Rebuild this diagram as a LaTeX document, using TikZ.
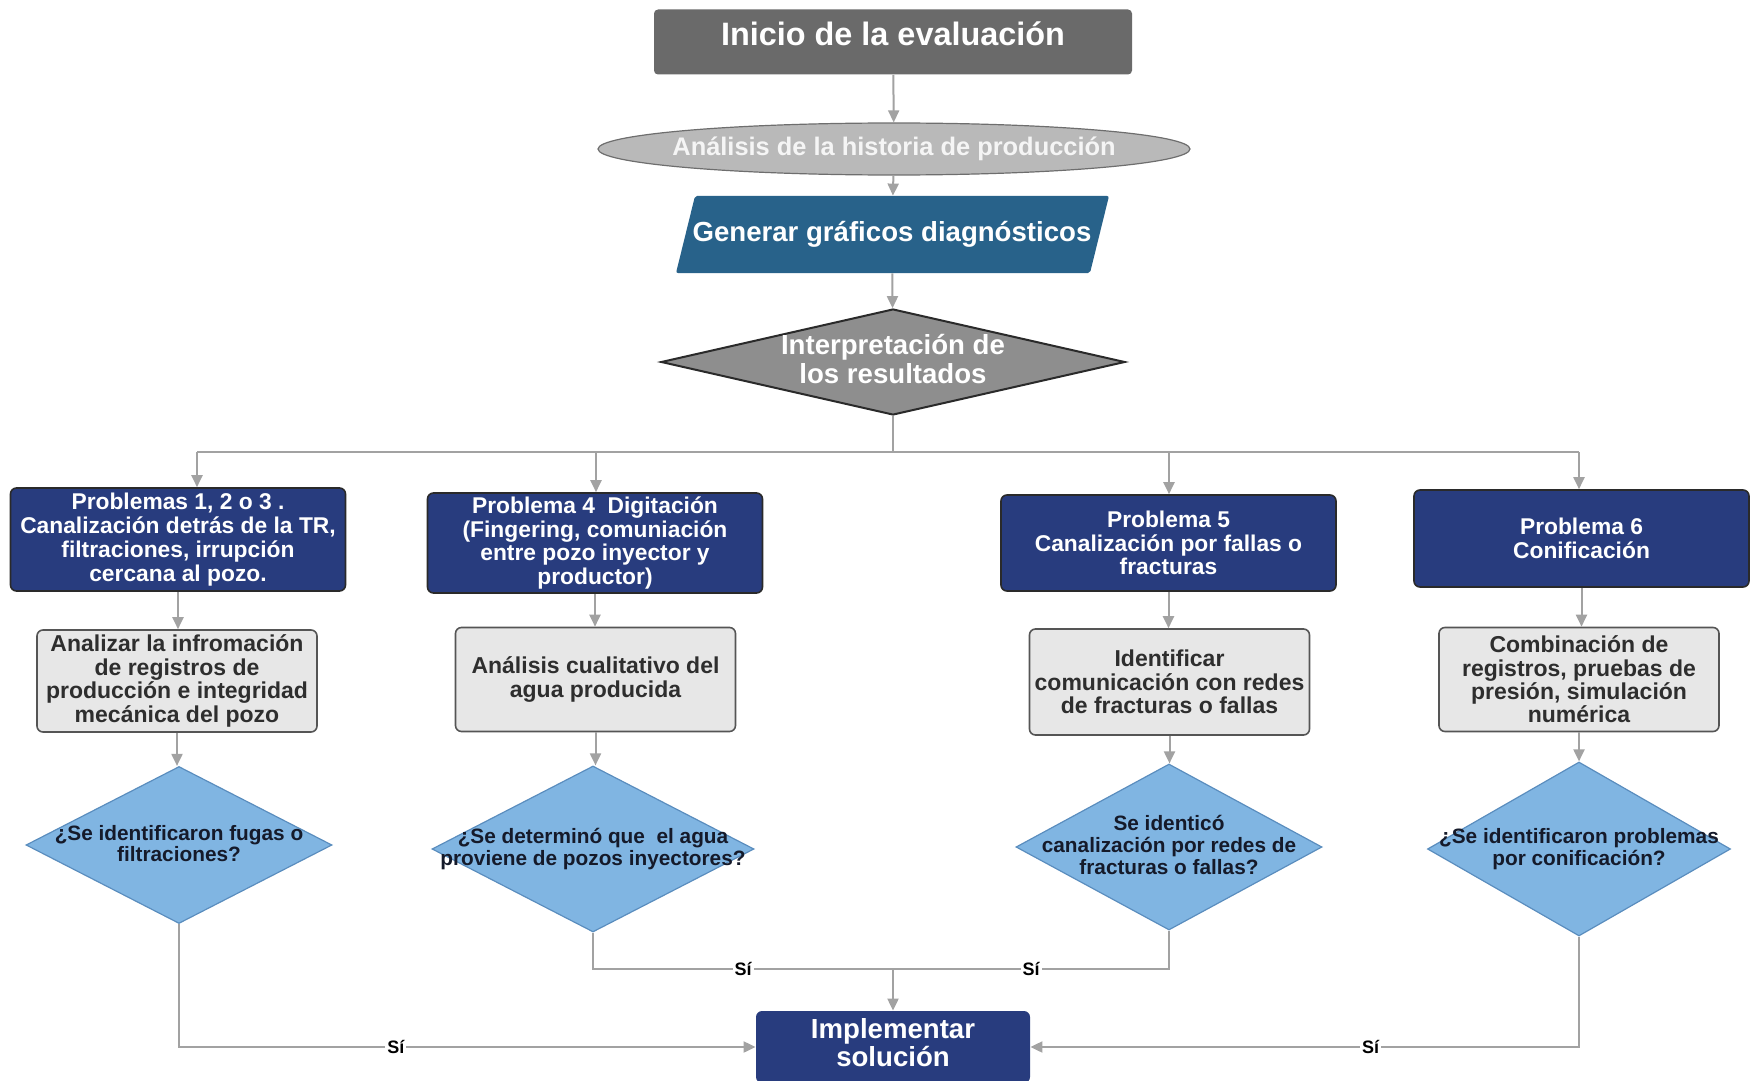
\documentclass[tikz,border=0pt]{standalone}
\usepackage{fontspec}
\setmainfont{Liberation Sans}
\usetikzlibrary{shapes.geometric,arrows.meta}
\definecolor{startgrey}{HTML}{6A6A6A}
\definecolor{ovalgrey}{HTML}{B9B9B9}
\definecolor{ovaledge}{HTML}{6E6E6E}
\definecolor{tealblue}{HTML}{28628A}
\definecolor{judgegrey}{HTML}{8E8E8E}
\definecolor{navy}{HTML}{283C7E}
\definecolor{boxedge}{HTML}{2A2A2A}
\definecolor{panelgrey}{HTML}{E7E7E7}
\definecolor{paneledge}{HTML}{555555}
\definecolor{panelink}{HTML}{2E2E2E}
\definecolor{qblue}{HTML}{80B5E2}
\definecolor{qedge}{HTML}{5A8DBE}
\definecolor{qink}{HTML}{151A2A}
\definecolor{linegrey}{HTML}{A2A2A2}

\begin{document}
\begin{tikzpicture}[x=0.5pt, y=-0.5pt, font=\bfseries]
  % one unit = one pixel of the 1752 x 1081 sheet, y running down
  \useasboundingbox (0,0) rectangle (1752,1081);
  \tikzset{
    link/.style={draw=linegrey, line width=1pt},
    arrow/.style={link, -{Triangle[length=6pt,width=5.5pt]}},
    probbox/.style={rectangle, rounded corners=3pt, fill=navy, draw=boxedge,
                    line width=0.8pt, text=white, align=center, inner sep=0pt,
                    minimum width=167.5pt,
                    font=\fontsize{11.4}{11.9}\selectfont\bfseries},
    taskbox/.style={rectangle, rounded corners=3pt, fill=panelgrey,
                    draw=paneledge, line width=0.8pt, text=panelink,
                    align=center, inner sep=0pt, minimum width=140pt,
                    minimum height=52pt,
                    font=\fontsize{11.5}{11.7}\selectfont\bfseries},
    question/.style={diamond, fill=qblue, draw=qedge, line width=0.6pt,
                     inner sep=0pt, minimum width=153pt, minimum height=83pt},
    qtext/.style={align=center, text=qink,
                  font=\fontsize{10.4}{10.8}\selectfont\bfseries},
    yes/.style={fill=white, inner sep=1pt, text=black,
                font=\fontsize{9}{9}\selectfont\bfseries}}

  % ========== TRUNK: start, history, plots, interpretation ==========
  \node[rectangle, rounded corners=2pt, fill=startgrey, text=white,
        minimum width=239pt, minimum height=32.5pt, inner sep=0pt,
        text depth=8pt, % lifts the title above the box centre
        font=\fontsize{16.2}{18}\selectfont\bfseries] (inicio) at (893,42)
    {Inicio de la evaluación};
  % shapes with long text are drawn empty and the text is set over them
  \node[ellipse, fill=ovalgrey, draw=ovaledge, line width=0.6pt,
        minimum width=296pt, minimum height=26pt, inner sep=0pt]
    (historia) at (894,149) {};
  \node[text=white!96!black, font=\fontsize{12.7}{14}\selectfont\bfseries]
    (historiatxt) at (historia) {Análisis de la historia de producción};
  \fill[tealblue, rounded corners=1pt]
    (676,273) -- (695,196) -- (1109,196) -- (1090,273) -- cycle;
  \node[rectangle, minimum width=207pt, minimum height=38.5pt, inner sep=0pt,
        text=white, font=\fontsize{13.8}{16}\selectfont\bfseries]
    (graficos) at (892,234.5) {Generar gráficos diagnósticos};
  \node[diamond, fill=judgegrey, draw=boxedge, line width=1pt, inner sep=0pt,
        minimum width=232pt, minimum height=53pt] (interp) at (893,362) {};
  \node[align=center, text=white,
        font=\fontsize{13.8}{14.5}\selectfont\bfseries] (interptxt)
    at (893,359) {Interpretación de\\los resultados};

  \draw[arrow] (inicio) -- (historia);
  \draw[arrow] (historia) -- (graficos);
  \draw[arrow] (graficos) -- (interp);

  % --- the split into the four problem columns ---
  \coordinate (split) at (893,452);
  \coordinate (b1) at (197,452);
  \coordinate (b2) at (596,452);
  \coordinate (b3) at (1169,452);
  \coordinate (b4) at (1579,452);
  \draw[link] (interp.south) -- (split);
  \draw[link] (b1) -- (b4);

  % ========== PROBLEM BOXES ==========
  \node[probbox, minimum height=51.5pt] (p1) at (178,539.5)
    {Problemas 1, 2 o 3 .\\Canalización detrás de la TR,\\filtraciones, irrupción\\cercana al pozo.};
  \node[probbox, minimum height=50pt] (p2) at (595,543)
    {Problema 4~ Digitación\\(Fingering, comuniación\\entre pozo inyector y\\productor)};
  \node[probbox, minimum height=48pt] (p3) at (1168.5,543)
    {Problema 5\\Canalización por fallas o\\fracturas};
  \node[probbox, minimum height=48.5pt] (p4) at (1581.5,538.5)
    {Problema 6\\Conificación};

  \foreach \b/\p in {b1/p1, b2/p2, b3/p3, b4/p4}
    \draw[arrow] (\b) -- (\b |- \p.north);

  % ========== TASK BOXES ==========
  \node[taskbox, minimum height=51pt] (g1) at (177,681)
    {Analizar la infromación\\de registros de\\producción e integridad\\mecánica del pozo};
  \node[taskbox] (g2) at (595.5,679.5)
    {Análisis cualitativo del\\agua producida};
  \node[taskbox, minimum height=53pt] (g3) at (1169.5,682)
    {Identificar\\comunicación con redes\\de fracturas o fallas};
  \node[taskbox] (g4) at (1579,679.5)
    {Combinación de\\registros, pruebas de\\presión, simulación\\numérica};

  \foreach \p/\g in {p1/g1, p2/g2, p3/g3, p4/g4}
    \draw[arrow] (\p.south) -- (\p.south |- \g.north);

  % ========== QUESTIONS (text set over the diamond, it may overhang) ==========
  \node[question, minimum height=78.5pt] (d1) at (179,845) {};
  \node[question, minimum width=161pt] (d2) at (593,849) {};
  \node[question] (d3) at (1169,847) {};
  \node[question, minimum height=87pt, minimum width=151.5pt] (d4) at (1579,849) {};
  \node[qtext] (q1) at (179,843.5) {¿Se identificaron fugas o\\filtraciones?};
  \node[qtext] (q2) at (593,849) {¿Se determinó que~ el agua\\proviene de pozos inyectores?};
  \node[qtext] (q3) at (1169,845) {Se identicó\\canalización por redes de\\fracturas o fallas?};
  \node[qtext] (q4) at (1579,849) {¿Se identificaron problemas\\por conificación?};

  \foreach \g/\d in {g1/d1, g2/d2, g3/d3, g4/d4}
    \draw[arrow] (\g.south) -- (\g.south |- \d.north);

  % ========== SOLUTION ==========
  \node[rectangle, rounded corners=3pt, fill=navy, text=white, align=center,
        minimum width=137pt, minimum height=36pt, inner sep=0pt,
        text depth=5pt, % text sits a little high, as in the source
        font=\fontsize{13.8}{14}\selectfont\bfseries] (impl) at (893,1047)
    {Implementar\\solución};

  \coordinate (join) at (893,969);
  \draw[arrow] (d1.south) |- (impl.west) node[yes, pos=0.688] (y1) {Sí};
  \draw[arrow] (d4.south) |- (impl.east) node[yes, pos=0.69] (y4) {Sí};
  \draw[link] (d2.south) |- (join) node[yes, pos=0.75] (y2) {Sí};
  \draw[link] (d3.south) |- (join) node[yes, pos=0.75] (y3) {Sí};
  \draw[arrow] (join) -- (impl.north);
\end{tikzpicture}
\end{document}
